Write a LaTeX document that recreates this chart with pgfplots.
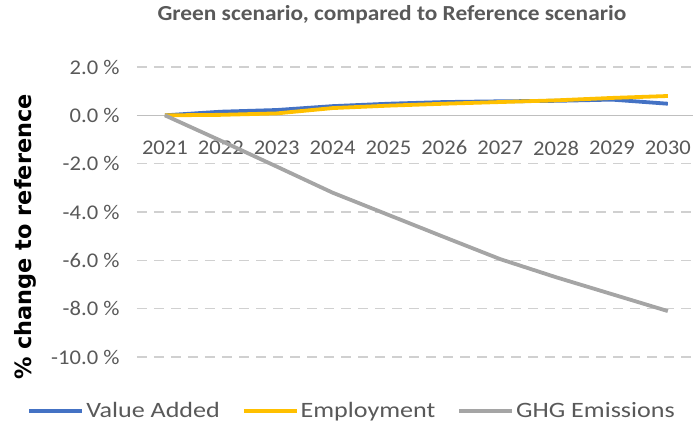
\documentclass[border=0pt]{standalone}
\usepackage{pgfplots}
\pgfplotsset{compat=1.18}
\usepackage{fontspec}
\setmainfont{Carlito}
\newfontfamily\tickfont{Carlito}[FakeStretch=1.08]
\newfontfamily\legfont{Carlito}[FakeStretch=1.19]
\newfontfamily\titlefont{Carlito}[FakeStretch=1.09]
\newfontfamily\labelfont{DejaVu Sans}
\definecolor{vablue}{HTML}{4472C4}
\definecolor{empyellow}{HTML}{FFC000}
\definecolor{ghggray}{HTML}{A5A5A5}
\definecolor{txtgray}{HTML}{595959}
\definecolor{gridgray}{HTML}{D0D0D0}
\begin{document}
\begin{tikzpicture}
\begin{axis}[
  at={(0,0)}, anchor=south west,
  scale only axis, width=556bp, height=290bp,
  xmin=2020.5, xmax=2030.45, ymin=-10, ymax=2,
  axis x line=middle, axis y line=left,
  x axis line style={-, draw=gray!50, line width=1.5bp},
  y axis line style={draw=none},
  xtick={2021,2022,2023,2024,2025,2026,2027,2028,2029,2030},
  xticklabels={2021,2022,2023,2024,2025,2026,2027,2028,2029,2030},
  ytick={-10,-8,-6,-4,-2,0,2},
  yticklabels={-10.0 \%,-8.0 \%,-6.0 \%,-4.0 \%,-2.0 \%,0.0 \%,2.0 \%},
  major tick length=0pt,
  ymajorgrids,
  grid style={gridgray, line width=1.3bp, dash pattern=on 10bp off 7bp},
  tick label style={font=\tickfont\fontsize{21}{24}\selectfont, text=txtgray},
  x tick label style={yshift=-22bp},
  y tick label style={xshift=-14bp},
  legend style={at={(axis description cs:0.387,-0.186)}, anchor=center, draw=none,
    font=\legfont\fontsize{22}{25}\selectfont, text=txtgray, legend columns=3,
    /tikz/every even column/.append style={column sep=20bp},
    /tikz/every odd column/.append style={inner xsep=1bp}},
  legend image code/.code={\draw[#1] (0bp,0bp) -- (53bp,0bp);},
  clip=false,
]
\addplot[vablue, line width=3.8bp] coordinates {(2021,0) (2022,0.15) (2023,0.22) (2024,0.38) (2025,0.48) (2026,0.55) (2027,0.58) (2028,0.60) (2029,0.65) (2030,0.48)};
\addlegendentry{Value Added}
\addplot[empyellow, line width=3.8bp] coordinates {(2021,0) (2022,0.02) (2023,0.08) (2024,0.30) (2025,0.40) (2026,0.48) (2027,0.55) (2028,0.62) (2029,0.72) (2030,0.80)};
\addlegendentry{Employment}
\addplot[ghggray, line width=3.8bp] coordinates {(2021,0) (2022,-1.05) (2023,-2.12) (2024,-3.20) (2025,-4.12) (2026,-5.04) (2027,-5.95) (2028,-6.70) (2029,-7.40) (2030,-8.10)};
\addlegendentry{GHG Emissions}
\end{axis}
\node[font=\titlefont\fontsize{21.5}{24}\selectfont\bfseries, text=txtgray] at (255bp,342bp) {Green scenario, compared to Reference scenario};
\node[font=\labelfont\fontsize{22.5}{26}\selectfont\bfseries, rotate=90] at (-112bp,120bp) {\% change to reference};
\pgfresetboundingbox
\useasboundingbox (-137bp,-66bp) rectangle (556bp,357bp);
\end{tikzpicture}
\end{document}
